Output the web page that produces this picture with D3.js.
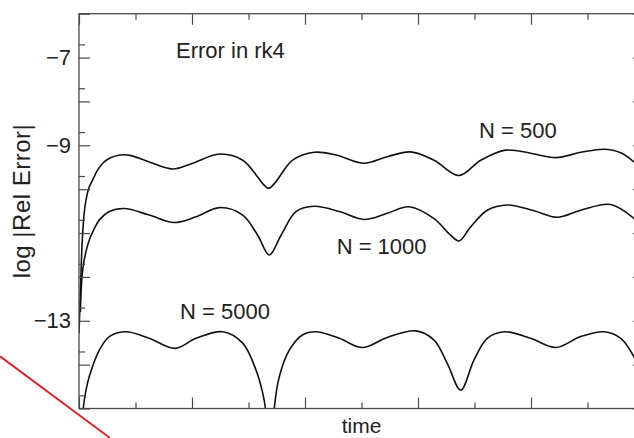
<!DOCTYPE html>
<html>
<head>
<meta charset="utf-8">
<script src="https://cdn.jsdelivr.net/npm/d3@7"></script>
<style>
  html, body { margin: 0; padding: 0; background: #fff; }
  svg { display: block; }
  text { font-family: "Liberation Sans", Arial, Helvetica, sans-serif; fill: #222; }
</style>
</head>
<body>
<svg id="chart" width="634" height="438"></svg>
<script>
// ---- data (time, log |Rel Error|) ----
const n500T = [0, 0.013, 0.027, 0.044, 0.062, 0.088, 0.121, 0.159, 0.210, 0.274, 0.363, 0.451, 0.622, 0.829, 1.006, 1.242, 1.449, 1.581, 1.628, 1.679, 1.726, 1.773, 1.891, 2.082, 2.274, 2.522, 2.728, 2.935, 3.142, 3.363, 3.555, 3.776, 3.997, 4.219, 4.444, 4.646, 4.794, 4.912, 5.0];
const n500V = [-13.28, -12.30, -11.27, -10.59, -10.25, -9.97, -9.79, -9.59, -9.41, -9.29, -9.22, -9.23, -9.38, -9.54, -9.41, -9.20, -9.34, -9.72, -9.88, -9.98, -9.88, -9.72, -9.34, -9.16, -9.22, -9.41, -9.26, -9.15, -9.34, -9.69, -9.34, -9.11, -9.18, -9.28, -9.16, -9.09, -9.17, -9.38, -9.61];

const n1000T = [0.012, 0.022, 0.033, 0.058, 0.091, 0.133, 0.180, 0.268, 0.401, 0.622, 0.843, 1.035, 1.242, 1.449, 1.581, 1.684, 1.788, 1.920, 2.082, 2.304, 2.522, 2.728, 2.920, 3.142, 3.289, 3.363, 3.466, 3.613, 3.790, 4.027, 4.233, 4.440, 4.705, 4.912, 5.0];
const n1000V = [-12.80, -12.18, -11.84, -11.46, -11.16, -10.91, -10.70, -10.51, -10.44, -10.59, -10.76, -10.63, -10.42, -10.59, -11.05, -11.50, -11.05, -10.51, -10.39, -10.51, -10.69, -10.55, -10.40, -10.67, -11.05, -11.18, -10.86, -10.48, -10.36, -10.49, -10.64, -10.48, -10.35, -10.67, -10.93];

const n5000T = [0.022, 0.038, 0.062, 0.091, 0.180, 0.268, 0.416, 0.622, 0.850, 1.035, 1.272, 1.449, 1.566, 1.626, 1.649, 1.668, 1.690, 1.712, 1.728, 1.773, 1.861, 1.980, 2.097, 2.304, 2.507, 2.728, 2.980, 3.142, 3.259, 3.378, 3.496, 3.613, 3.761, 3.997, 4.219, 4.440, 4.646, 4.794, 4.912, 5.0];
const n5000V = [-15.94, -14.99, -14.58, -14.27, -13.67, -13.36, -13.25, -13.40, -13.63, -13.40, -13.25, -13.51, -14.12, -14.65, -14.99, -15.72, -16.17, -15.72, -14.99, -14.27, -13.67, -13.32, -13.25, -13.40, -13.61, -13.38, -13.23, -13.44, -13.97, -14.58, -13.89, -13.40, -13.25, -13.40, -13.61, -13.36, -13.25, -13.40, -13.83, -14.46];

const seriesNames = ["N = 500", "N = 1000", "N = 5000"];
const labelT = [3.54, 2.28, 0.894];
const labelV = [-8.84, -11.47, -12.96];

const xMajorTicks = [0, 1, 2, 3, 4, 5];
const xMinorTicks = [0.5, 1.5, 2.5, 3.5, 4.5];
const yMajorTicks = [-15, -14, -13, -12, -11, -10, -9, -8, -7, -6];
const yMinorTicks = [-14.7, -13.7, -12.7, -11.7, -10.7, -9.7, -8.7, -7.7, -6.7];
const yTickLabels = [-7, -9, -13];

const redLineT = [-0.699, 0.274];
const redLineV = [-13.81, -15.67];

// ---- layout ----
const W = 634, H = 438;
const mLeft = 79, mRight = 644, mTop = 13.7, mBottom = 408.5;

const svg = d3.select("#chart");
const x = d3.scaleLinear().domain([0, 5]).range([mLeft, mRight]);
const y = d3.scaleLinear().domain([-15, -6]).range([mBottom, mTop]);

const axisColor = "#4a4a4a";

// clip
svg.append("defs").append("clipPath").attr("id", "plotClip")
  .append("rect").attr("x", mLeft).attr("y", mTop).attr("width", mRight - mLeft).attr("height", mBottom - mTop);

// curves
const line = d3.line()
  .x(d => x(d[0])).y(d => y(d[1]))
  .curve(d3.curveCatmullRom.alpha(0.5));

const series = [
  d3.zip(n500T, n500V),
  d3.zip(n1000T, n1000V),
  d3.zip(n5000T, n5000V)
];

svg.append("g").attr("clip-path", "url(#plotClip)")
  .selectAll("path").data(series).join("path")
  .attr("d", line)
  .attr("fill", "none")
  .attr("stroke", "#111")
  .attr("stroke-width", 1.6);

// axes
function styleAxis(g) {
  g.select(".domain").remove();
  g.selectAll(".tick line").attr("stroke", axisColor).attr("stroke-width", 1.2);
}
const fmt = d => yTickLabels.includes(d) ? "\u2212" + Math.abs(d) : "";

svg.append("g").attr("transform", `translate(${mLeft},0)`)
  .call(d3.axisLeft(y).tickValues(yMajorTicks).tickSizeInner(-11).tickSizeOuter(0).tickPadding(8).tickFormat(fmt))
  .call(styleAxis)
  .call(g => g.selectAll("text").style("font-size", "22px").attr("fill", "#222")
    .style("font-family", "'Liberation Sans', Arial, sans-serif"));
svg.append("g").attr("transform", `translate(${mLeft},0)`)
  .call(d3.axisLeft(y).tickValues(yMinorTicks).tickSizeInner(-6).tickSizeOuter(0).tickFormat(""))
  .call(styleAxis);

svg.append("g").attr("transform", `translate(${mRight},0)`)
  .call(d3.axisRight(y).tickValues(yMajorTicks).tickSizeInner(-11).tickSizeOuter(0).tickFormat(""))
  .call(styleAxis);
svg.append("g").attr("transform", `translate(${mRight},0)`)
  .call(d3.axisRight(y).tickValues(yMinorTicks).tickSizeInner(-6).tickSizeOuter(0).tickFormat(""))
  .call(styleAxis);

svg.append("g").attr("transform", `translate(0,${mBottom})`)
  .call(d3.axisBottom(x).tickValues(xMajorTicks).tickSizeInner(-11).tickSizeOuter(0).tickFormat(""))
  .call(styleAxis);
svg.append("g").attr("transform", `translate(0,${mBottom})`)
  .call(d3.axisBottom(x).tickValues(xMinorTicks).tickSizeInner(-6).tickSizeOuter(0).tickFormat(""))
  .call(styleAxis);
svg.append("g").attr("transform", `translate(0,${mTop})`)
  .call(d3.axisTop(x).tickValues(xMajorTicks).tickSizeInner(-11).tickSizeOuter(0).tickFormat(""))
  .call(styleAxis);
svg.append("g").attr("transform", `translate(0,${mTop})`)
  .call(d3.axisTop(x).tickValues(xMinorTicks).tickSizeInner(-6).tickSizeOuter(0).tickFormat(""))
  .call(styleAxis);

// frame
svg.append("rect")
  .attr("x", mLeft).attr("y", mTop).attr("width", mRight - mLeft).attr("height", mBottom - mTop)
  .attr("fill", "none").attr("stroke", axisColor).attr("stroke-width", 1.3);

// series labels
svg.append("g").selectAll("text").data(seriesNames).join("text")
  .attr("x", (d, i) => x(labelT[i]))
  .attr("y", (d, i) => y(labelV[i]))
  .style("font-size", "22px")
  .text(d => d);

// title inside plot
svg.append("text")
  .attr("x", 176).attr("y", 57.5)
  .style("font-size", "22px")
  .text("Error in rk4");

// axis titles
svg.append("text")
  .attr("x", (mLeft + mRight) / 2).attr("y", 433)
  .attr("text-anchor", "middle")
  .style("font-size", "21px")
  .text("time");

svg.append("text")
  .attr("transform", "translate(30,201) rotate(-90)")
  .attr("text-anchor", "middle")
  .style("font-size", "24px")
  .style("letter-spacing", "0.5px")
  .text("log |Rel Error|");

// red annotation stroke
svg.append("line")
  .attr("x1", x(redLineT[0])).attr("y1", y(redLineV[0]))
  .attr("x2", x(redLineT[1])).attr("y2", y(redLineV[1]))
  .attr("stroke", "#e8141c").attr("stroke-width", 1.8);
</script>
</body>
</html>
